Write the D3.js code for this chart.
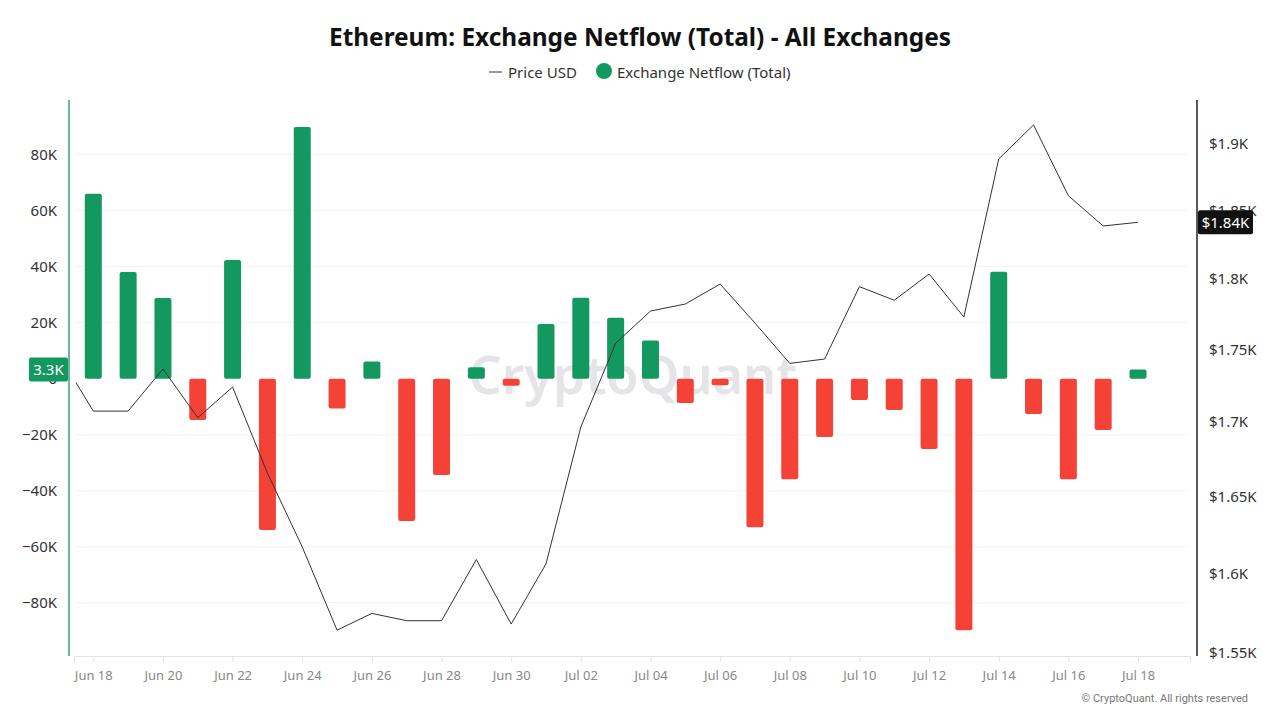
<!DOCTYPE html>
<html>
<head>
<meta charset="utf-8">
<script src="https://cdn.jsdelivr.net/npm/d3@7"></script>
<style>
  html, body { margin: 0; padding: 0; background: #fff; }
  svg { display: block; font-family: "Noto Sans", "Open Sans", sans-serif; }
</style>
</head>
<body>
<div id="chart"></div>
<script>
// Daily dates (UTC)
const dates = [
  '2023-06-17', '2023-06-18', '2023-06-19', '2023-06-20', '2023-06-21', '2023-06-22',
  '2023-06-23', '2023-06-24', '2023-06-25', '2023-06-26', '2023-06-27', '2023-06-28',
  '2023-06-29', '2023-06-30', '2023-07-01', '2023-07-02', '2023-07-03', '2023-07-04',
  '2023-07-05', '2023-07-06', '2023-07-07', '2023-07-08', '2023-07-09', '2023-07-10',
  '2023-07-11', '2023-07-12', '2023-07-13', '2023-07-14', '2023-07-15', '2023-07-16',
  '2023-07-17', '2023-07-18'
];

// ETH price, USD
const priceUsd = [
  1747, 1707.5, 1707.5, 1736.5, 1703, 1724,
  1665.7, 1617.2, 1564.3, 1574.8, 1570.2, 1570.2,
  1609.1, 1568.1, 1606.3, 1696.7, 1754.4, 1777.2,
  1782.2, 1796.5, 1768.7, 1740.4, 1743.4, 1794.6,
  1784.9, 1803.7, 1773, 1888.6, 1914.5, 1861.1,
  1838.7, 1841.4
];

// Exchange netflow (total), ETH; no bar on the first day
const netflow = [
  null, 66000, 38100, 28800, -14750, 42400,
  -54000, 89900, -10600, 6100, -50800, -34400,
  4100, -2500, 19500, 28900, 21800, 13600,
  -8700, -2300, -53000, -35900, -20800, -7600,
  -11200, -25100, -89800, 38200, -12600, -35900,
  -18300, 3300
];

const leftTicks = [-80000, -60000, -40000, -20000, 0, 20000, 40000, 60000, 80000];
const rightTicks = [1550, 1600, 1650, 1700, 1750, 1800, 1850, 1900];

const W = 1280, H = 720;
const plot = { left: 74, right: 1190, top: 100, bottom: 656 };
const green = '#13985f', red = '#f44336';

const parse = d3.utcParse('%Y-%m-%d');
const rows = dates.map((d, i) => ({ date: parse(d), price: priceUsd[i], flow: netflow[i] }));

const svg = d3.select('#chart').append('svg').attr('width', W).attr('height', H);

// Title and legend
svg.append('text').attr('x', 640).attr('y', 46).attr('text-anchor', 'middle')
  .style('font-size', '24.4px').style('font-weight', 700).attr('fill', '#111')
  .text('Ethereum: Exchange Netflow (Total) - All Exchanges');

const legend = svg.append('g').attr('font-size', 15).attr('fill', '#333');
legend.append('line').attr('x1', 489).attr('x2', 502).attr('y1', 72).attr('y2', 72)
  .attr('stroke', '#333').attr('stroke-width', 1);
legend.append('text').attr('x', 508).attr('y', 77.5).text('Price USD');
legend.append('circle').attr('cx', 604).attr('cy', 71).attr('r', 8).attr('fill', green);
legend.append('text').attr('x', 617).attr('y', 77.5).text('Exchange Netflow (Total)');

// Scales
const x = d3.scaleUtc()
  .domain([Date.UTC(2023, 5, 17, 10, 42), Date.UTC(2023, 6, 19, 11, 50)])
  .range([plot.left, plot.right]);
const y = d3.scaleLinear().domain([-99000, 99500]).range([plot.bottom, plot.top]);
const yPrice = d3.scaleLog().domain([1548.2, 1933.7]).range([plot.bottom, plot.top]);

// Grid
svg.append('g').selectAll('line').data(leftTicks.filter(t => t !== 0)).join('line')
  .attr('x1', plot.left + 1).attr('x2', plot.right)
  .attr('y1', d => y(d)).attr('y2', d => y(d))
  .attr('stroke', '#f2f2f2').attr('stroke-width', 1);

// Watermark
svg.append('text').attr('x', 633).attr('y', 394).attr('text-anchor', 'middle')
  .style('font-size', '52px').style('font-weight', 600).attr('fill', '#e4e4e9')
  .text('CryptoQuant');

// X axis
const xAxis = d3.axisBottom(x)
  .tickValues(rows.filter((r, i) => i % 2 === 1).map(r => r.date))
  .tickFormat(d3.utcFormat('%b %d')).tickSize(6).tickPadding(9);
const gx = svg.append('g').attr('transform', `translate(0,${plot.bottom})`).call(xAxis);
gx.select('.domain').attr('stroke', '#e3e3ea');
gx.selectAll('.tick line').attr('stroke', '#e3e3ea');
gx.selectAll('.tick text').attr('fill', '#888').style('font-size', '13px')
  .style('font-family', '"Noto Sans", sans-serif');

// Left axis
const yAxis = d3.axisLeft(y).tickValues(leftTicks).tickSize(0).tickPadding(12)
  .tickFormat(d => d === 0 ? '0' : d3.format('d')(d / 1000) + 'K');
const gy = svg.append('g').attr('transform', 'translate(69,0)').call(yAxis);
gy.select('.domain').remove();
gy.selectAll('.tick text').attr('fill', '#333').style('font-size', '15px')
  .style('font-family', '"Noto Sans", sans-serif');
svg.append('line').attr('x1', 69).attr('x2', 69).attr('y1', plot.top).attr('y2', plot.bottom)
  .attr('stroke', '#2fa574').attr('stroke-width', 1.5);

// Right axis
const yAxisR = d3.axisRight(yPrice).tickValues(rightTicks).tickSize(0).tickPadding(12)
  .tickFormat(d => '$' + d3.format('.3~f')(d / 1000) + 'K');
const gr = svg.append('g').attr('transform', 'translate(1197,0)').call(yAxisR);
gr.select('.domain').remove();
gr.selectAll('.tick text').attr('fill', '#333').style('font-size', '15px')
  .style('font-family', '"Noto Sans", sans-serif');
svg.append('line').attr('x1', 1197).attr('x2', 1197).attr('y1', plot.top).attr('y2', plot.bottom)
  .attr('stroke', '#222').attr('stroke-width', 1.5);

// Clip for the plotted series
svg.append('clipPath').attr('id', 'clip').append('rect')
  .attr('x', 76).attr('y', plot.top).attr('width', plot.right - 76).attr('height', plot.bottom - plot.top);
const body = svg.append('g').attr('clip-path', 'url(#clip)');

// Bars
const barW = 17;
body.selectAll('rect.bar').data(rows.filter(r => r.flow !== null)).join('rect')
  .attr('class', 'bar')
  .attr('x', d => x(d.date) - barW / 2)
  .attr('width', barW)
  .attr('y', d => Math.min(y(d.flow), y(0)))
  .attr('height', d => Math.abs(y(d.flow) - y(0)))
  .attr('rx', 2)
  .attr('fill', d => d.flow >= 0 ? green : red);

// Price line
body.append('path').datum(rows)
  .attr('d', d3.line().x(d => x(d.date)).y(d => yPrice(d.price)))
  .attr('fill', 'none').attr('stroke', '#333').attr('stroke-width', 1);

// Last value labels (they sit over the "0" and "$1.85K" ticks, as in the source)
const last = rows[rows.length - 1];
const lg = svg.append('g');
lg.append('rect').attr('x', 29).attr('y', y(last.flow) - 12).attr('width', 39).attr('height', 24)
  .attr('rx', 2).attr('fill', green);
lg.append('text').attr('x', 48.5).attr('y', y(last.flow) + 5.5).attr('text-anchor', 'middle')
  .attr('fill', '#fff').style('font-size', '15px').text(d3.format('.1f')(last.flow / 1000) + 'K');

const rg = svg.append('g');
rg.append('rect').attr('x', 1198).attr('y', yPrice(last.price) - 12).attr('width', 55).attr('height', 24)
  .attr('rx', 2).attr('fill', '#111');
rg.append('text').attr('x', 1225.5).attr('y', yPrice(last.price) + 5.5).attr('text-anchor', 'middle')
  .attr('fill', '#fff').style('font-size', '15px').text('$' + d3.format('.2f')(last.price / 1000) + 'K');

// Footer
svg.append('text').attr('x', 1248).attr('y', 702).attr('text-anchor', 'end')
  .attr('fill', '#777').style('font-size', '11px').style('font-family', 'Roboto, sans-serif')
  .text('© CryptoQuant. All rights reserved');
</script>
</body>
</html>
